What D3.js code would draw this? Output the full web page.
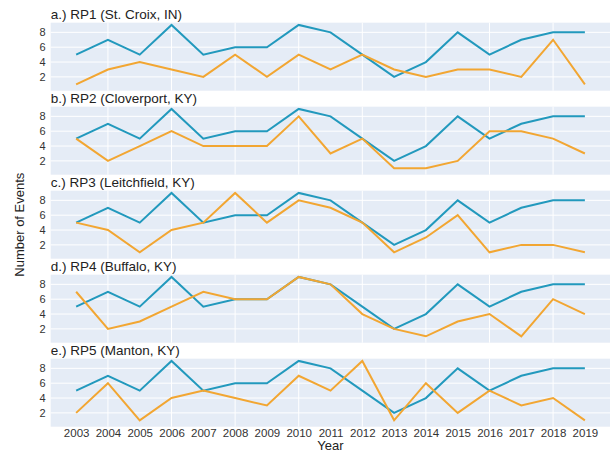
<!DOCTYPE html>
<html>
<head>
<meta charset="utf-8">
<script src="https://cdn.jsdelivr.net/npm/d3@7"></script>
<style>
  html, body { margin: 0; padding: 0; background: #fff; }
  svg { display: block; font-family: "Liberation Sans", Arial, Helvetica, sans-serif; }
</style>
</head>
<body>
<svg id="chart" width="616" height="454"></svg>
<script>
const years = [2003,2004,2005,2006,2007,2008,2009,2010,2011,2012,2013,2014,2015,2016,2017,2018,2019];
const panelTitles = [
  "a.) RP1 (St. Croix, IN)",
  "b.) RP2 (Cloverport, KY)",
  "c.) RP3 (Leitchfield, KY)",
  "d.) RP4 (Buffalo, KY)",
  "e.) RP5 (Manton, KY)"
];
const observed = [5,7,5,9,5,6,6,9,8,5,2,4,8,5,7,8,8];
const rp1 = [1,3,4,3,2,5,2,5,3,5,3,2,3,3,2,7,1];
const rp2 = [5,2,4,6,4,4,4,8,3,5,1,1,2,6,6,5,3];
const rp3 = [5,4,1,4,5,9,5,8,7,5,1,3,6,1,2,2,1];
const rp4 = [7,2,3,5,7,6,6,9,8,4,2,1,3,4,1,6,4];
const rp5 = [2,6,1,4,5,4,3,7,5,9,1,6,2,5,3,4,1];
const panelSeries = [rp1, rp2, rp3, rp4, rp5];
const yTicks = [2,4,6,8];
const xGridYears = [2004,2006,2008,2010,2012,2014,2016,2018];
const xLabel = "Year";
const yLabel = "Number of Events";

const svg = d3.select("#chart");
const left = 50.7, right = 610, top0 = 22.7, panelH = 68, gap = 16;
const blue = "#2299bd", orange = "#f2a632", bg = "#e5ecf6";

const x = d3.scaleLinear().domain([2002.2, 2019.79]).range([left, right]);

panelTitles.forEach((title, i) => {
  const top = top0 + i * (panelH + gap);
  const y = d3.scaleLinear().domain([0.14, 9.3]).range([top + panelH, top]);
  const g = svg.append("g");
  g.append("rect").attr("x", left).attr("y", top).attr("width", right - left).attr("height", panelH).attr("fill", bg);
  g.selectAll(".hg").data(yTicks).enter().append("line")
    .attr("x1", left).attr("x2", right)
    .attr("y1", d => y(d)).attr("y2", d => y(d))
    .attr("stroke", "#fff").attr("stroke-width", 1);
  g.selectAll(".vg").data(xGridYears).enter().append("line")
    .attr("y1", top).attr("y2", top + panelH)
    .attr("x1", d => x(d)).attr("x2", d => x(d))
    .attr("stroke", "#fff").attr("stroke-width", 1);
  const ya = d3.axisLeft(y).tickValues(yTicks).tickSize(0).tickPadding(5).tickFormat(d3.format("d"));
  const yg = g.append("g").attr("transform", `translate(${left},0)`).call(ya);
  yg.select(".domain").remove();
  yg.selectAll("text").attr("font-size", 11).attr("fill", "#333").attr("font-family", "Liberation Sans, Arial, sans-serif");
  g.append("text").attr("x", left).attr("y", top - 3.5).attr("font-size", 13.5).attr("fill", "#222").text(title);
  const line = d3.line().x((d, j) => x(years[j])).y(d => y(d));
  g.append("path").datum(observed).attr("d", line).attr("fill", "none").attr("stroke", blue).attr("stroke-width", 2);
  g.append("path").datum(panelSeries[i]).attr("d", line).attr("fill", "none").attr("stroke", orange).attr("stroke-width", 2);
  if (i === panelTitles.length - 1) {
    const xa = d3.axisBottom(x).tickValues(years).tickSize(0).tickPadding(2).tickFormat(d3.format("d"));
    const xg = g.append("g").attr("transform", `translate(0,${top + panelH})`).call(xa);
    xg.select(".domain").remove();
    xg.selectAll("text").attr("font-size", 11.5).attr("fill", "#333").attr("font-family", "Liberation Sans, Arial, sans-serif");
  }
});

svg.append("text").attr("x", (left + right) / 2).attr("y", 450).attr("text-anchor", "middle")
  .attr("font-size", 13).attr("fill", "#222").text(xLabel);
svg.append("text").attr("transform", `translate(24,${top0 + (5*panelH + 4*gap)/2}) rotate(-90)`)
  .attr("text-anchor", "middle").attr("font-size", 13).attr("fill", "#222").text(yLabel);
</script>
</body>
</html>
